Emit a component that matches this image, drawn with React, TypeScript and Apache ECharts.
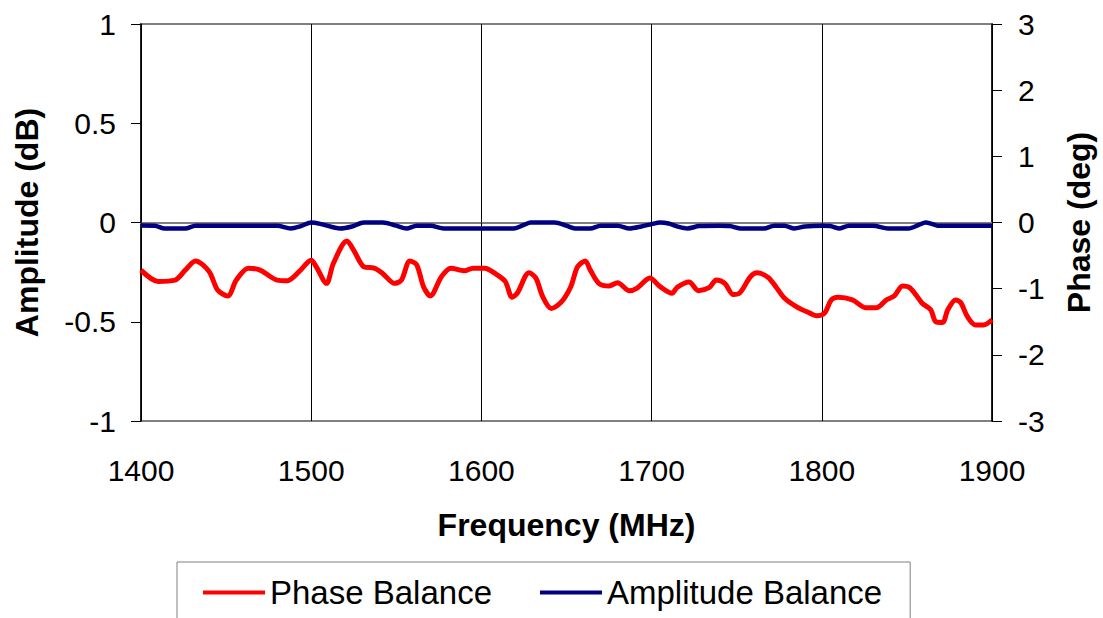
import React, { useEffect, useRef } from "react";
import * as echarts from "echarts";

const xTicks = [1400, 1500, 1600, 1700, 1800, 1900];

const phaseFreq = [
  1400, 1410, 1420, 1426, 1432, 1440, 1445, 1451, 1456, 1463, 1470, 1480, 1486, 1493, 1500,
  1503, 1509, 1513, 1521, 1525, 1531, 1537, 1542, 1549, 1553, 1558, 1562, 1566, 1570, 1576.5,
  1582, 1590, 1595, 1602, 1608, 1614, 1618, 1621, 1628, 1632, 1636, 1641, 1647, 1652.5, 1656.5,
  1661, 1664, 1669, 1675, 1680, 1687, 1691.5, 1699, 1705, 1712, 1715, 1722, 1727.5, 1734, 1738,
  1743, 1748, 1752, 1758, 1762, 1768.5, 1773, 1778, 1785, 1793, 1797, 1801.6, 1805.6, 1809.5,
  1818, 1826, 1832, 1838, 1842.6, 1847.5, 1852, 1859, 1864, 1867, 1871, 1874, 1878.6, 1881.6,
  1885.5, 1890.4, 1895, 1900,
];
const phaseDeg = [
  -0.72, -0.89, -0.87, -0.72, -0.58, -0.74, -1.02, -1.11, -0.87, -0.69, -0.72, -0.87, -0.88, -0.74, -0.57,
  -0.67, -0.92, -0.62, -0.28, -0.42, -0.67, -0.69, -0.77, -0.92, -0.87, -0.58, -0.64, -0.97, -1.11, -0.82,
  -0.69, -0.73, -0.69, -0.69, -0.77, -0.89, -1.13, -1.07, -0.76, -0.84, -1.12, -1.3, -1.2, -0.97, -0.67,
  -0.58, -0.72, -0.92, -0.96, -0.91, -1.03, -0.99, -0.84, -0.97, -1.07, -0.98, -0.9, -1.03, -0.98, -0.87,
  -0.92, -1.09, -1.06, -0.82, -0.76, -0.83, -0.97, -1.14, -1.27, -1.37, -1.41, -1.37, -1.17, -1.13,
  -1.17, -1.29, -1.29, -1.17, -1.11, -0.96, -0.99, -1.22, -1.32, -1.5, -1.51, -1.32, -1.17, -1.21,
  -1.42, -1.55, -1.55, -1.47,
];

const ampFreq = [
  1400, 1408, 1414, 1426, 1432, 1480, 1488, 1494, 1500, 1506, 1517, 1524, 1531, 1542, 1550,
  1556, 1562, 1570, 1578, 1619, 1625, 1629, 1643, 1650, 1655, 1664, 1670, 1680, 1687, 1694,
  1700, 1705, 1710, 1716, 1721, 1728, 1740, 1746, 1752, 1766, 1772, 1778, 1784, 1790, 1800,
  1805, 1810, 1816, 1830, 1839, 1851, 1857, 1861, 1865, 1868, 1900,
];
const ampDb = [
  -0.015, -0.016, -0.03, -0.03, -0.016, -0.016, -0.03, -0.018, 0, -0.008, -0.03, -0.02, 0, 0, -0.016,
  -0.03, -0.016, -0.016, -0.03, -0.03, -0.012, 0, 0, -0.016, -0.03, -0.03, -0.016, -0.016, -0.03, -0.02,
  -0.008, 0, -0.005, -0.022, -0.03, -0.018, -0.016, -0.018, -0.03, -0.03, -0.016, -0.016, -0.03, -0.02, -0.016,
  -0.018, -0.03, -0.016, -0.016, -0.03, -0.03, -0.012, 0, -0.008, -0.016, -0.016,
];

const FONT = "'Liberation Sans', Arial, sans-serif";

export default function App() {
  const ref = useRef<HTMLDivElement>(null);
  useEffect(() => {
    if (!ref.current) return;
    const chart = echarts.init(ref.current, undefined, { renderer: "svg" });
    chart.setOption({
      animation: false,
      backgroundColor: "#ffffff",
      textStyle: { fontFamily: FONT },
      grid: {
        left: 141,
        right: 107,
        top: 24,
        bottom: 197,
        show: true,
        borderColor: "#808080",
        borderWidth: 2,
      },
      legend: {
        left: 177,
        top: 562,
        padding: [14, 28, 14, 26],
        borderColor: "#808080",
        borderWidth: 1,
        itemGap: 48,
        icon: "rect",
        itemWidth: 62,
        itemHeight: 4,
        textStyle: { fontSize: 33, color: "#000", fontFamily: FONT },
        data: ["Phase Balance", "Amplitude Balance"],
      },
      xAxis: {
        type: "value",
        min: xTicks[0],
        max: xTicks[xTicks.length - 1],
        interval: 100,
        name: "Frequency (MHz)",
        nameLocation: "middle",
        nameGap: 88,
        nameTextStyle: { fontSize: 32, fontWeight: "bold", color: "#000", fontFamily: FONT },
        axisLine: { show: true, lineStyle: { color: "#808080", width: 2 } },
        axisTick: { show: true, length: 10, lineStyle: { color: "#000", width: 1 } },
        axisLabel: {
          fontSize: 30,
          color: "#000",
          margin: 34,
          fontFamily: FONT,
          formatter: (v: number) => String(v),
        },
        splitLine: { show: true, lineStyle: { color: "#000", width: 1 } },
      },
      yAxis: [
        {
          type: "value",
          min: -1,
          max: 1,
          interval: 0.5,
          name: "Amplitude (dB)",
          nameLocation: "middle",
          nameGap: 98,
          nameTextStyle: { fontSize: 32, fontWeight: "bold", color: "#000", fontFamily: FONT },
          axisLine: { show: true, lineStyle: { color: "#000", width: 1.5 } },
          axisTick: { show: true, length: 10, lineStyle: { color: "#000", width: 1 } },
          axisLabel: { fontSize: 30, color: "#000", margin: 25, fontFamily: FONT },
          splitLine: { show: false },
        },
        {
          type: "value",
          min: -3,
          max: 3,
          interval: 1,
          position: "right",
          name: "Phase (deg)",
          nameLocation: "middle",
          nameGap: 71,
          nameTextStyle: { fontSize: 32, fontWeight: "bold", color: "#000", fontFamily: FONT },
          axisLine: { show: true, lineStyle: { color: "#000", width: 1.5 } },
          axisTick: { show: true, length: 10, lineStyle: { color: "#000", width: 1 } },
          axisLabel: { fontSize: 30, color: "#000", margin: 26, fontFamily: FONT },
          splitLine: { show: false },
        },
      ],
      series: [
        {
          name: "Phase Balance",
          type: "line",
          yAxisIndex: 1,
          data: phaseFreq.map((f, i) => [f, phaseDeg[i]]),
          showSymbol: false,
          symbol: "none",
          smooth: 0.3,
          lineStyle: { color: "#ff0000", width: 5 },
          itemStyle: { color: "#ff0000" },
          z: 3,
        },
        {
          name: "Amplitude Balance",
          type: "line",
          yAxisIndex: 0,
          data: ampFreq.map((f, i) => [f, ampDb[i]]),
          showSymbol: false,
          symbol: "none",
          smooth: 0.3,
          lineStyle: { color: "#000080", width: 4.5 },
          itemStyle: { color: "#000080" },
          z: 4,
        },
      ],
    });
    return () => chart.dispose();
  }, []);
  return <div ref={ref} style={{ width: 1103, height: 618, position: "absolute", left: 0, top: 0 }} />;
}
